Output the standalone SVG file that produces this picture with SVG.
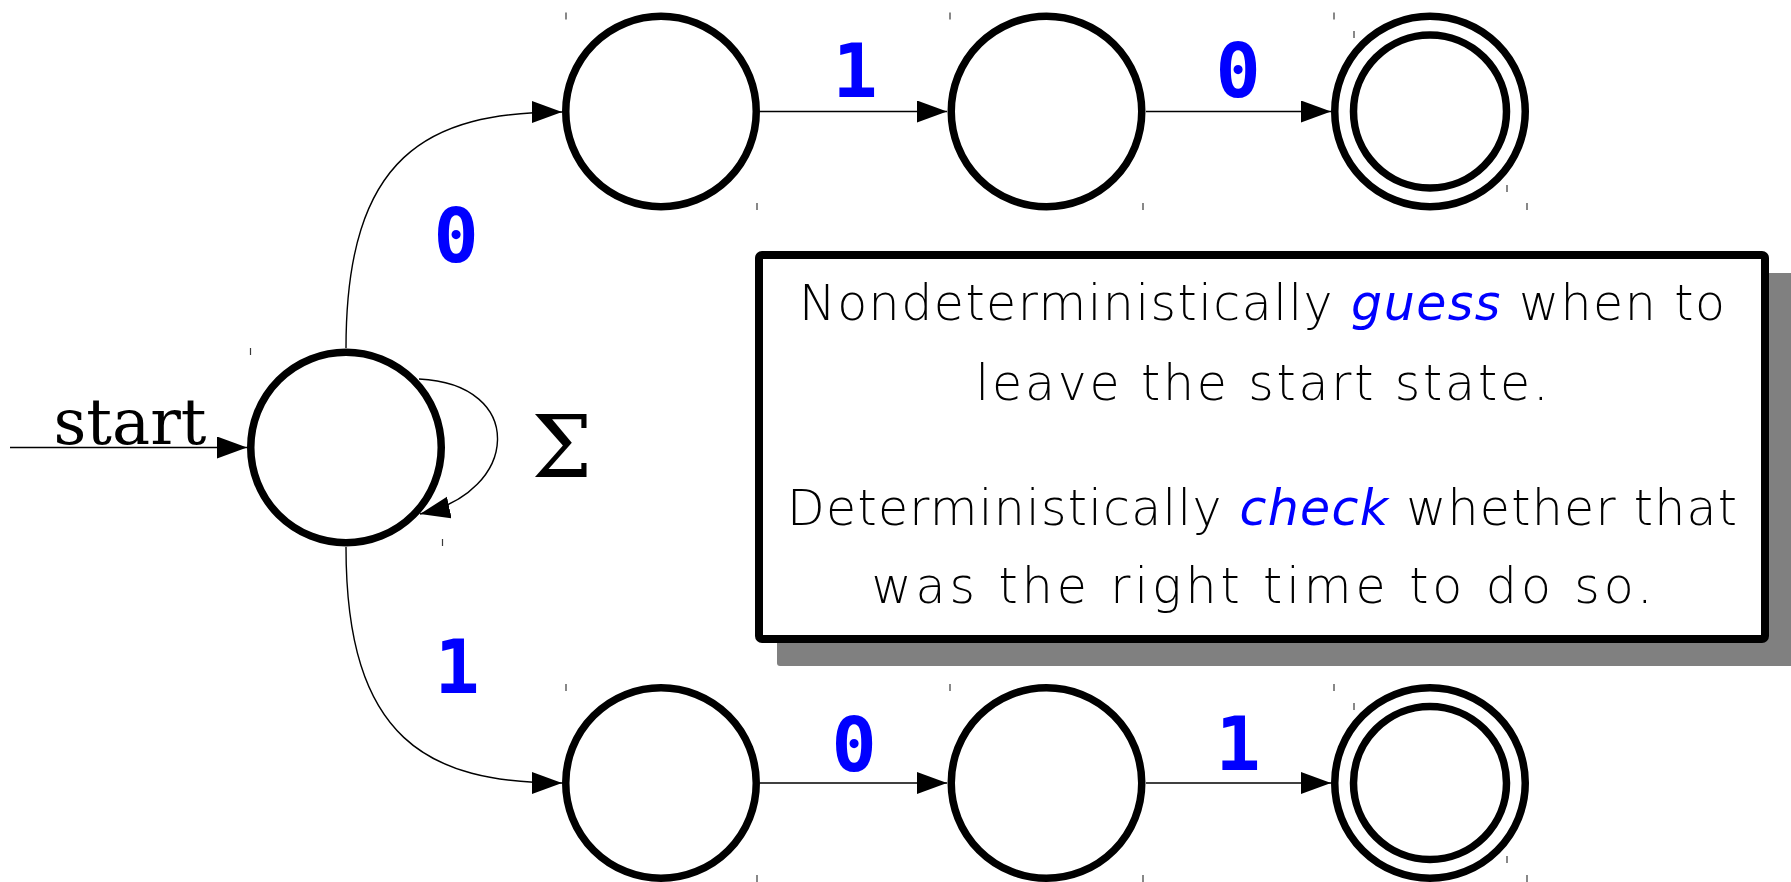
<svg xmlns="http://www.w3.org/2000/svg" width="1791" height="882" viewBox="0 0 1791 882">
<style>
.st{fill:#fff;stroke:#000;stroke-width:7.5}
.ed{fill:none;stroke:#000;stroke-width:1.4}
.lb{font-family:"DejaVu Sans Mono","Liberation Mono",monospace;font-weight:bold;font-size:75px;fill:#0000ff;text-anchor:middle}
.tk{stroke:#3a3a3a;stroke-width:1.2}
.nt{font-family:"DejaVu Sans","Liberation Sans",sans-serif;font-weight:200;font-size:49px;fill:#000;text-anchor:middle}
.em{fill:#0000ff;font-style:italic}
</style>
<defs>
<marker id="ah" markerUnits="userSpaceOnUse" markerWidth="32" markerHeight="24" refX="30" refY="11" orient="auto">
<path d="M0,0 L30,11 L0,22 z" fill="#000"/>
</marker>
</defs>
<rect width="1791" height="882" fill="#fff"/>

<g id="connectors">
<path class="ed" d="M10,447.5 H247" marker-end="url(#ah)"/>
<path class="ed" d="M419,379 C527,384 520,492 420,514" marker-end="url(#ah)"/>
<path class="ed" d="M346,348 C346,155 428,112 562,112" marker-end="url(#ah)"/>
<path class="ed" d="M346,547 C346,740 428,783 562,783" marker-end="url(#ah)"/>
<path class="ed" d="M760,111.5 H947" marker-end="url(#ah)"/>
<path class="ed" d="M1146,111.5 H1331" marker-end="url(#ah)"/>
<path class="ed" d="M760,783 H947" marker-end="url(#ah)"/>
<path class="ed" d="M1146,783 H1331" marker-end="url(#ah)"/>
</g>

<g id="labels">
<text x="130" y="444" font-family="DejaVu Serif,Liberation Serif,serif" font-size="64" text-anchor="middle">start</text>
<text x="562" y="477" font-family="DejaVu Serif,Liberation Serif,serif" font-size="86" text-anchor="middle">Σ</text>
<text class="lb" x="456" y="262">0</text>
<text class="lb" x="457" y="693">1</text>
<text class="lb" x="855" y="97">1</text>
<text class="lb" x="1238" y="97">0</text>
<text class="lb" x="854" y="771">0</text>
<text class="lb" x="1238" y="770">1</text>
</g>

<g id="q0"><circle class="st" cx="346" cy="447.5" r="95.25"/></g>
<g id="a1"><circle class="st" cx="661" cy="111.5" r="95.25"/></g>
<g id="a2"><circle class="st" cx="1046.5" cy="111.5" r="95.25"/></g>
<g id="a3"><circle class="st" cx="1430" cy="111.5" r="95.25"/><circle class="st" cx="1430" cy="111.5" r="76.5"/></g>
<g id="b1"><circle class="st" cx="661" cy="783" r="95.25"/></g>
<g id="b2"><circle class="st" cx="1046.5" cy="783" r="95.25"/></g>
<g id="b3"><circle class="st" cx="1430" cy="783" r="95.25"/><circle class="st" cx="1430" cy="783" r="76.5"/></g>

<g id="ticks">
<path class="tk" d="M250.5,348V355 M442.5,539V546 M566,12.5V19.5 M757,203V210 M950,12.5V19.5 M1143,203V210 M1334,12.5V19.5 M1527,203V210 M1354,31V38 M1507,185V192 M566,684V691 M757,875V882 M950,684V691 M1143,875V882 M1334,684V691 M1527,875V882 M1354,703V710 M1507,856V863"/>
</g>

<g id="note">
<rect x="777" y="273" width="1016" height="393" rx="3" fill="#808080"/>
<rect x="759" y="255" width="1006" height="384" rx="3" fill="#fff" stroke="#000" stroke-width="8"/>
<text class="nt" x="1262" y="320" textLength="926" lengthAdjust="spacing">Nondeterministically <tspan class="em">guess</tspan> when to</text>
<text class="nt" x="1262" y="400" textLength="573" lengthAdjust="spacing">leave the start state.</text>
<text class="nt" x="1262" y="525" textLength="950" lengthAdjust="spacing">Deterministically <tspan class="em">check</tspan> whether that</text>
<text class="nt" x="1262" y="603" textLength="781" lengthAdjust="spacing">was the right time to do so.</text>
</g>
</svg>
